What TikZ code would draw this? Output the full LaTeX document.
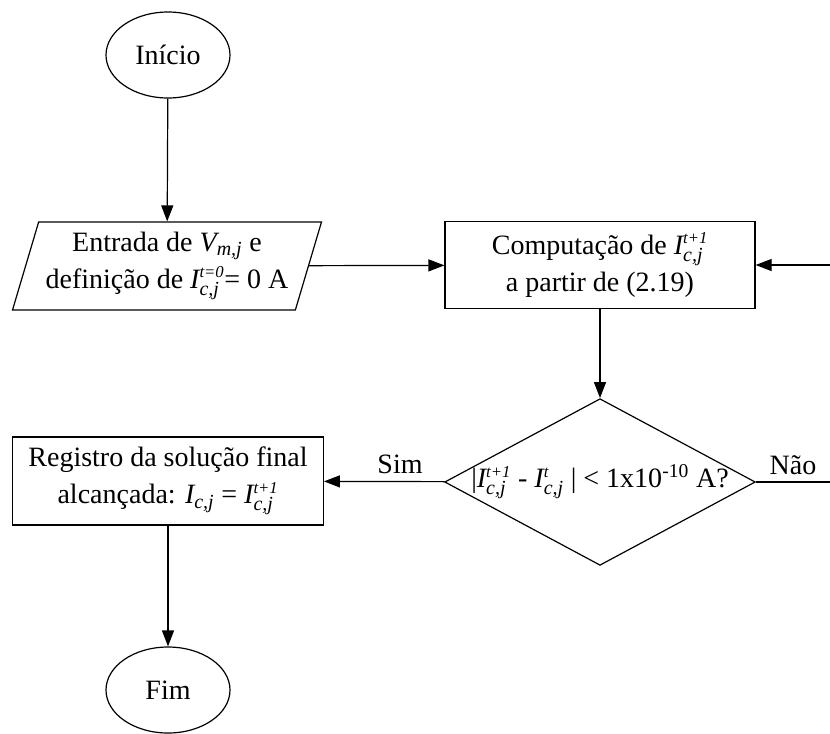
\documentclass[tikz,border=0pt]{standalone}
\usepackage{amsmath}
\usepackage{fontspec}
\setmainfont{Liberation Serif}
\usetikzlibrary{shapes.geometric,arrows.meta}
\newcommand{\supit}[1]{\mbox{\fontsize{12.5}{13}\itshape\selectfont #1}}
\newcommand{\subit}[1]{\mbox{\fontsize{15}{15}\itshape\selectfont #1}}
\newcommand{\Icj}[1]{\textit{I}^{\supit{#1}}_{\subit{c,j}}}
\tikzset{
  base/.style={draw=black, line width=0.9pt},
  arr/.style={base, -{Triangle[length=12pt,width=9pt]}},
  term/.style={base, ellipse, minimum width=93pt, minimum height=64.5pt, inner sep=0pt},
  proc/.style={base, rectangle, minimum width=232.5pt, minimum height=65pt, inner sep=0pt, align=center},
  inout/.style={base, trapezium, trapezium left angle=70, trapezium right angle=110,
    trapezium stretches=true, minimum width=232.5pt, minimum height=66pt, inner sep=0pt, align=center},
  decide/.style={base, diamond, aspect=1.86, minimum width=233pt, minimum height=125pt, inner sep=0pt},
  lab/.style={font=\fontsize{21}{28}\selectfont},
}

\begin{document}
\begin{tikzpicture}[x=0.75pt, y=-0.75pt, font=\fontsize{21}{28}\selectfont]
  \useasboundingbox (0,0) rectangle (830,733);
  % nodes
  \node[term] (ini) at (168,55) {Início};
  \node[inout] (inp) at (167,266) {Entrada de $\textit{V}_{\subit{m,j}}$ e\\definição de $\Icj{t=0}$= 0 A};
  \node[proc] (comp) at (600,265) {Computação de $\Icj{t+1}$\\a partir de (2.19)};
  \node[decide] (dec) at (600,482) {\makebox[0pt]{|$\Icj{t+1}$ - $\Icj{t}$ | < 1x10\textsuperscript{-10} A?}};
  \node[proc, minimum width=233pt, minimum height=66pt] (reg) at (168,481) {Registro da solução final\\alcançada: $\textit{I}_{\subit{c,j}}$ = $\Icj{t+1}$};
  \node[term] (fim) at (168,690) {Fim};
  % loop ends (cut at the right edge)
  \coordinate (rin) at (830,265);
  \coordinate (rout) at (830,482);
  % connectors
  \draw[arr] (ini) -- (inp);
  \draw[arr] (inp) -- (comp);
  \draw[arr] (rin) -- (comp);
  \draw[arr] (comp) -- (dec);
  \draw[arr] (dec) -- node[lab, above=2pt, pos=0.37] {Sim} (reg);
  \draw[base] (dec) -- node[lab, above=2pt] {Não} (rout);
  \draw[arr] (reg) -- (fim);
\end{tikzpicture}
\end{document}
